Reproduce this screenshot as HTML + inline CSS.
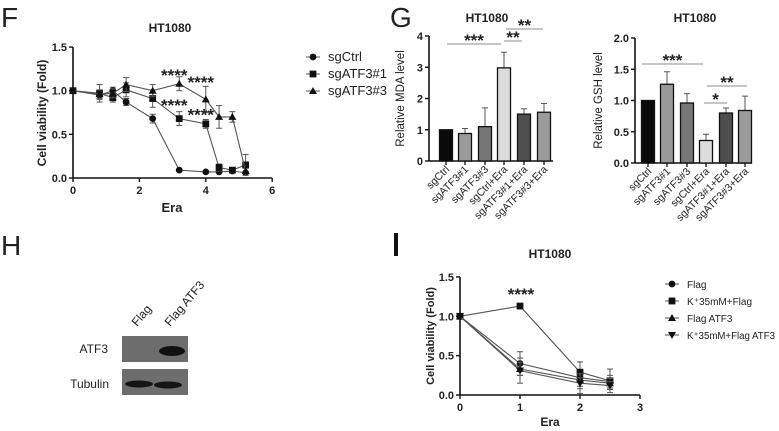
<!DOCTYPE html>
<html><head><meta charset="utf-8">
<style>
html,body{margin:0;padding:0;background:#fff;}
svg{display:block;font-family:"Liberation Sans",Arial,sans-serif;}
text{fill:#222;}
</style></head>
<body>
<svg id="fig" width="779" height="431" viewBox="0 0 779 431">
<text x="1" y="27" font-size="28">F</text>
<text x="390" y="27" font-size="28">G</text>
<text x="1" y="255" font-size="28">H</text>
<rect x="394" y="233" width="4" height="23" fill="#111"/>
<g>
<rect x="122" y="336" width="66" height="26" fill="#6d6d6d"/>
<ellipse cx="172" cy="351" rx="13" ry="5" fill="#111"/>
<rect x="122" y="369" width="66" height="26" fill="#6d6d6d"/>
<ellipse cx="139" cy="384" rx="14" ry="3.5" fill="#151515"/>
<ellipse cx="168" cy="385" rx="14" ry="3.5" fill="#151515"/>
<text x="108" y="353" font-size="12" text-anchor="end">ATF3</text>
<text x="109" y="388" font-size="12" text-anchor="end">Tubulin</text>
<text transform="translate(137,327) rotate(-50)" font-size="12">Flag</text>
<text transform="translate(170,327) rotate(-50)" font-size="12">Flag ATF3</text>
</g>
</svg>
<script>
// Panel F data
const fX = [0,0.8,1.2,1.6,2.4,3.2,4,4.4,4.8,5.2];
const fCtrl = [1.0,0.95,1.0,0.87,0.68,0.09,0.07,0.07,0.08,0.06];
const fCtrlErr = [0,0.05,0.04,0.04,0.05,0.01,0.01,0.01,0.01,0.01];
const fAtf1 = [1.0,0.97,0.92,1.01,0.91,0.68,0.62,0.12,0.09,0.15];
const fAtf1Err = [0,0.1,0.05,0.08,0.1,0.08,0.05,0.04,0.02,0.12];
const fAtf3 = [1.0,0.96,0.97,1.07,1.0,1.08,0.9,0.7,0.7,0.08];
const fAtf3Err = [0,0.05,0.05,0.08,0.07,0.08,0.15,0.13,0.06,0.03];
const fXTicks = [0,2,4,6];
const fYTicks = [0.0,0.5,1.0,1.5];
// Panel G data
const gCats = ["sgCtrl","sgATF3#1","sgATF3#3","sgCtrl+Era","sgATF3#1+Era","sgATF3#3+Era"];
const mdaVals = [1.0,0.88,1.1,2.98,1.5,1.56];
const mdaErr = [0,0.16,0.6,0.5,0.17,0.28];
const gshVals = [1.0,1.26,0.96,0.36,0.8,0.84];
const gshErr = [0,0.2,0.15,0.1,0.08,0.23];
const barFills = ["#0a0a0a","#9a9a9a","#767676","#dcdcdc","#4e4e4e","#9a9a9a"];
const mdaTicks = [0,1,2,3,4];
const gshTicks = [0.0,0.5,1.0,1.5,2.0];
// Panel I data
const iX = [0,1,2,2.5];
const iFlag = [1.0,0.40,0.22,0.17];
const iFlagErr = [0,0.15,0.2,0.08];
const iKFlag = [1.0,1.13,0.29,0.18];
const iKFlagErr = [0,0.03,0.13,0.15];
const iFlagAtf3 = [1.0,0.33,0.19,0.15];
const iFlagAtf3Err = [0,0.08,0.08,0.06];
const iKFlagAtf3 = [1.0,0.31,0.15,0.12];
const iKFlagAtf3Err = [0,0.16,0.07,0.05];
const iXTicks = [0,1,2,3];
const iYTicks = [0.0,0.5,1.0,1.5];

const svg = document.getElementById('fig');
const NS = 'http://www.w3.org/2000/svg';
function mk(tag, attrs, parent){
  const e = document.createElementNS(NS, tag);
  for (const k in attrs) e.setAttribute(k, attrs[k]);
  (parent||svg).appendChild(e);
  return e;
}
function txt(x,y,s,size,anchor,bold,parent){
  const t = mk('text',{x:x,y:y,'font-size':size,'text-anchor':anchor||'middle'},parent);
  if (bold) t.setAttribute('font-weight','bold');
  t.textContent = s;
  return t;
}
function marker(type,x,y,g){
  let m;
  if (type==='circle') m = mk('circle',{cx:x,cy:y,r:3.4,fill:'#111'},g);
  else if (type==='square') m = mk('rect',{x:x-3.4,y:y-3.4,width:6.8,height:6.8,fill:'#111'},g);
  else if (type==='tri') m = mk('path',{d:`M${x},${y-4}L${x+4},${y+3}L${x-4},${y+3}Z`,fill:'#111'},g);
  else m = mk('path',{d:`M${x},${y+4}L${x+4},${y-3}L${x-4},${y-3}Z`,fill:'#111'},g);
  return m;
}
function axesXY(x0,x1,y0,y1,xs,ys,xt,yt,fmtY,g){
  mk('line',{x1:x0,y1:y0,x2:x0,y2:y1,stroke:'#111','stroke-width':1.6},g);
  mk('line',{x1:x0,y1:y0,x2:x1,y2:y0,stroke:'#111','stroke-width':1.6},g);
  if (xt) xt.forEach(v=>{const X=xs(v);mk('line',{x1:X,y1:y0,x2:X,y2:y0+4,stroke:'#111','stroke-width':1.4},g);txt(X,y0+16,String(v),11,'middle',true,g);});
  yt.forEach(v=>{const Y=ys(v);mk('line',{x1:x0-4,y1:Y,x2:x0,y2:Y,stroke:'#111','stroke-width':1.4},g);txt(x0-6,Y+4,fmtY(v),11,'end',true,g);});
}
function lineSeries(xsArr,ys,errs,xs,ysF,type,name,g){
  const sg = mk('g',{},g);
  
  
  let d='';
  xsArr.forEach((v,i)=>{d+=(i?'L':'M')+xs(v)+','+ysF(ys[i]);});
  mk('path',{d:d,fill:'none',stroke:'#555','stroke-width':1.1},sg);
  xsArr.forEach((v,i)=>{
    const X=xs(v), e=errs[i];
    if (e>0){
      const a=ysF(ys[i]+e), b=ysF(ys[i]-e);
      mk('line',{x1:X,y1:a,x2:X,y2:b,stroke:'#555','stroke-width':1},sg);
      mk('line',{x1:X-3,y1:a,x2:X+3,y2:a,stroke:'#555','stroke-width':1},sg);
      mk('line',{x1:X-3,y1:b,x2:X+3,y2:b,stroke:'#555','stroke-width':1},sg);
    }
    const m = marker(type,X,ysF(ys[i]),sg);
    
    
  });
}
function legendItem(x,y,type,label,size,g){
  const li = mk('g',{},g);
  
  
  mk('line',{x1:x-7,y1:y,x2:x+7,y2:y,stroke:'#555','stroke-width':1},li);
  marker(type,x,y,li);
  return txt(x+15,y+4,label,size,'start',false,li);
}

// ---- Panel F ----
(function(){
  const g = mk('g',{});
  
  
  const x0=73,y0=178;
  const xs=v=>x0+v*33.2, ys=v=>y0-v*87.3;
  axesXY(x0,xs(6),y0,ys(1.5),xs,ys,fXTicks,fYTicks,v=>v.toFixed(1),g);
  txt(170,32,'HT1080',12,'middle',true,g);
  txt(172,212,'Era',13,'middle',true,g);
  const yl = txt(0,0,'Cell viability (Fold)',12,'middle',true,g);
  yl.setAttribute('transform','translate(46,113) rotate(-90)');
  
  lineSeries(fX,fCtrl,fCtrlErr,xs,ys,'circle','series-sgctrl',g);
  lineSeries(fX,fAtf1,fAtf1Err,xs,ys,'square','series-sgatf3-1',g);
  lineSeries(fX,fAtf3,fAtf3Err,xs,ys,'tri','series-sgatf3-3',g);
  [[3.2,1.2],[4.0,1.12],[3.2,0.86],[4.0,0.75]].forEach(p=>{
    const s=txt(xs(p[0])-5,ys(p[1])+8,'****',17,'middle',true,g);
    
  });
  legendItem(313,57,'circle','sgCtrl',13,g);
  legendItem(313,74,'square','sgATF3#1',13,g);
  legendItem(313,91,'tri','sgATF3#3',13,g);
})();

// ---- Bar panels ----
function barPanel(name,x0,y0,per,xEnd,centers,vals,errs,ticks,fmt,title,titleX,ylab,sig){
  const g = mk('g',{});
  
  
  const ys=v=>y0-v*per;
  axesXY(x0,xEnd,y0,ys(ticks[ticks.length-1]),null,ys,null,ticks,fmt,g);
  txt(titleX,22,title,12,'middle',true,g);
  const yl=txt(0,0,ylab,11.5,'middle',false,g);
  const off = fmt(ticks[0]).length>1 ? 33 : 25;
  yl.setAttribute('transform','translate('+(x0-off)+','+((y0+ys(ticks[ticks.length-1]))/2)+') rotate(-90)');
  
  vals.forEach((v,i)=>{
    const c=centers[i];
    if (errs[i]>0){
      mk('line',{x1:c,y1:ys(v),x2:c,y2:ys(v+errs[i]),stroke:'#555','stroke-width':1},g);
      mk('line',{x1:c-3,y1:ys(v+errs[i]),x2:c+3,y2:ys(v+errs[i]),stroke:'#555','stroke-width':1},g);
    }
    const r=mk('rect',{x:c-6.5,y:ys(v),width:13,height:y0-ys(v),fill:barFills[i],stroke:'#111','stroke-width':1.3},g);
    
    
    mk('line',{x1:c,y1:y0,x2:c,y2:y0+4,stroke:'#111','stroke-width':1.3},g);
    const t=txt(0,0,gCats[i],10.5,'end',false,g);
    t.setAttribute('transform','translate('+(c+4)+','+(y0+9)+') rotate(-45)');
    
  });
  sig.forEach(s=>{
    mk('line',{x1:s[0],y1:s[2],x2:s[1],y2:s[2],stroke:'#666','stroke-width':0.8},g);
    const st=txt((s[0]+s[1])/2,s[2]+2,s[3],17,'middle',true,g);
    
  });
}
const mdaC=[446,465,485,504,524,544];
barPanel('mda-chart',429,161,31.25,553,mdaC,mdaVals,mdaErr,mdaTicks,v=>String(v),'HT1080',487,'Relative MDA level',
  [[447,501,44,'***'],[504,522,41,'**'],[506,543,29,'**']]);
const gshC=[648,667,687,706,726,745];
barPanel('gsh-chart',635,163,62.5,752,gshC,gshVals,gshErr,gshTicks,v=>v.toFixed(1),'HT1080',695,'Relative GSH level',
  [[642,703,64,'***'],[704,727,103,'*'],[707,747,86,'**']]);

// ---- Panel I ----
(function(){
  const g = mk('g',{});
  
  
  const x0=460,y0=395;
  const xs=v=>x0+v*60, ys=v=>y0-v*78.7;
  axesXY(x0,xs(3),y0,ys(1.5),xs,ys,iXTicks,iYTicks,v=>v.toFixed(1),g);
  txt(550,258,'HT1080',12,'middle',true,g);
  txt(550,426,'Era',12,'middle',true,g);
  const yl=txt(0,0,'Cell viability (Fold)',11,'middle',true,g);
  yl.setAttribute('transform','translate(434,336) rotate(-90)');
  
  lineSeries(iX,iFlag,iFlagErr,xs,ys,'circle','series-flag',g);
  lineSeries(iX,iKFlag,iKFlagErr,xs,ys,'square','series-k-flag',g);
  lineSeries(iX,iFlagAtf3,iFlagAtf3Err,xs,ys,'tri','series-flag-atf3',g);
  lineSeries(iX,iKFlagAtf3,iKFlagAtf3Err,xs,ys,'itri','series-k-flag-atf3',g);
  txt(xs(1)+1,ys(1.13)-6,'****',17,'middle',true,g);
  legendItem(672,284,'circle','Flag',10,g);
  legendItem(672,301,'square','K\u207A35mM+Flag',10,g);
  legendItem(672,318,'tri','Flag ATF3',10,g);
  const last = legendItem(672,335,'itri','K\u207A35mM+Flag ATF3',10,g);
  last.setAttribute('textLength','88');
  last.setAttribute('lengthAdjust','spacingAndGlyphs');
})();
</script>
</body></html>
